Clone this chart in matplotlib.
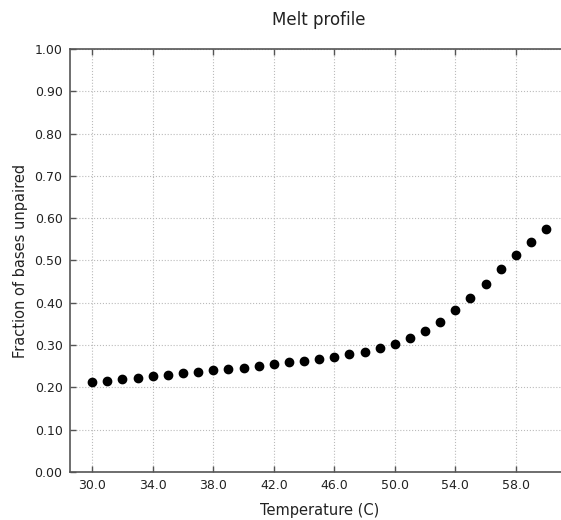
import numpy as np
import matplotlib
matplotlib.use('Agg')
import matplotlib.pyplot as plt
from matplotlib.ticker import FormatStrFormatter

# melt curve
temps = [30, 31, 32, 33, 34, 35, 36, 37, 38, 39, 40, 41, 42, 43, 44, 45,
         46, 47, 48, 49, 50, 51, 52, 53, 54, 55, 56, 57, 58, 59, 60]
unpaired = [0.213, 0.216, 0.219, 0.222, 0.226, 0.230, 0.233, 0.237, 0.240,
            0.244, 0.247, 0.251, 0.255, 0.259, 0.263, 0.267, 0.273, 0.279,
            0.284, 0.294, 0.303, 0.317, 0.334, 0.355, 0.383, 0.412, 0.445,
            0.479, 0.512, 0.544, 0.574]
xticks = [30, 34, 38, 42, 46, 50, 54, 58]
yticks = [0.0, 0.1, 0.2, 0.3, 0.4, 0.5, 0.6, 0.7, 0.8, 0.9, 1.0]

fig = plt.figure(figsize=(5.61, 5.2), dpi=100)
ax = fig.add_axes([0.1239, 0.0923, 0.89, 0.8135])

ax.plot(temps, unpaired, 'o', color='black', markersize=6)

ax.set_xlim(28.5, 61.5)
ax.set_ylim(0, 1)
ax.set_xticks(xticks)
ax.set_yticks(yticks)
ax.xaxis.set_major_formatter(FormatStrFormatter('%.1f'))
ax.yaxis.set_major_formatter(FormatStrFormatter('%.2f'))
ax.tick_params(direction='in', length=4, width=1, color='#555555',
               top=True, right=True, labelsize=9, pad=5, labelcolor='#222222')
ax.grid(True, linestyle=':', color='#bbbbbb', linewidth=0.8)
for s in ax.spines.values():
    s.set_color('#555555')
    s.set_linewidth(1.2)

ax.set_title('Melt profile', fontsize=12, pad=17, color='#222222')
ax.set_xlabel('Temperature (C)', fontsize=10.5, labelpad=8, color='#222222')
ax.set_ylabel('Fraction of bases unpaired', fontsize=10.5, labelpad=5, color='#222222')

fig.savefig('out.png', dpi=100)
